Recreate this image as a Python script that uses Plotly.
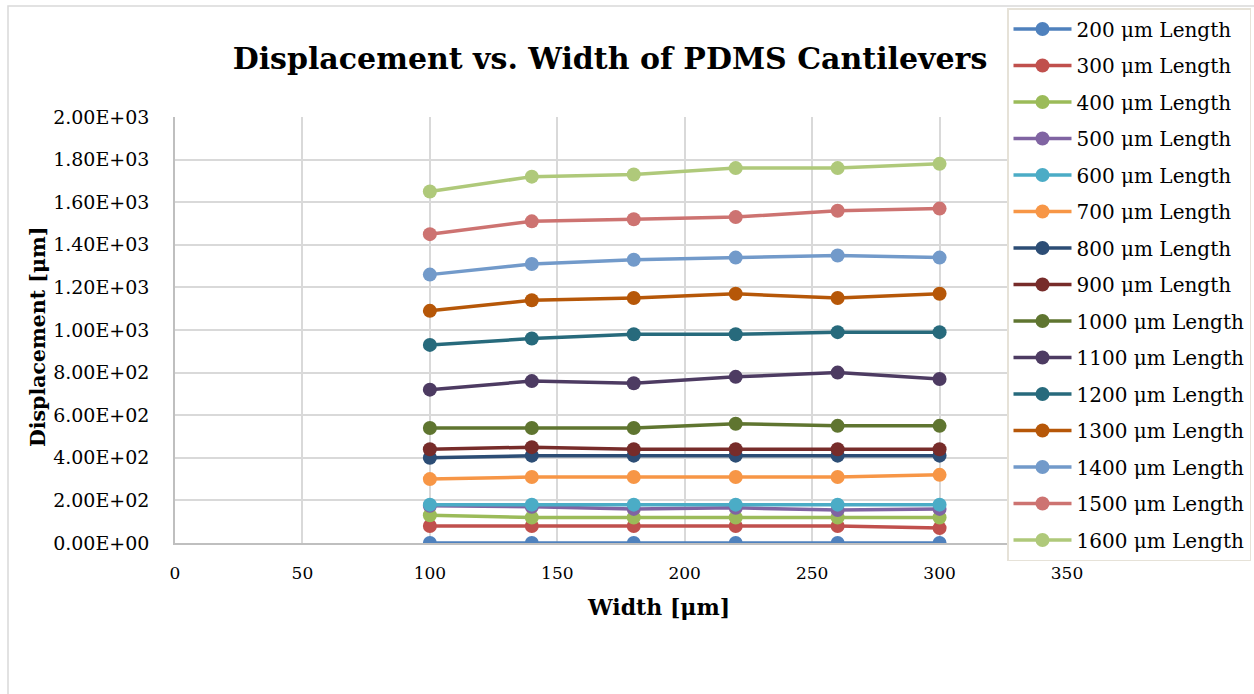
import plotly.graph_objects as go

widths = [100, 140, 180, 220, 260, 300]
lengths = [200, 300, 400, 500, 600, 700, 800, 900, 1000, 1100, 1200, 1300, 1400, 1500, 1600]

d200 = [0, 0, 0, 0, 0, 0]
d300 = [80, 80, 80, 80, 80, 70]
d400 = [130, 120, 120, 120, 120, 120]
d500 = [175, 170, 160, 165, 155, 160]
d600 = [180, 180, 180, 180, 180, 180]
d700 = [300, 310, 310, 310, 310, 320]
d800 = [400, 410, 410, 410, 410, 410]
d900 = [440, 450, 440, 440, 440, 440]
d1000 = [540, 540, 540, 560, 550, 550]
d1100 = [720, 760, 750, 780, 800, 770]
d1200 = [930, 960, 980, 980, 990, 990]
d1300 = [1090, 1140, 1150, 1170, 1150, 1170]
d1400 = [1260, 1310, 1330, 1340, 1350, 1340]
d1500 = [1450, 1510, 1520, 1530, 1560, 1570]
d1600 = [1650, 1720, 1730, 1760, 1760, 1780]

series = [d200, d300, d400, d500, d600, d700, d800, d900, d1000, d1100, d1200, d1300, d1400, d1500, d1600]
colors = ["#4F81BD", "#C0504D", "#9BBB59", "#8064A2", "#4BACC6", "#F79646", "#2C4D75",
          "#772C2A", "#5F7530", "#4D3B62", "#276A7C", "#B65708", "#729ACA", "#CD7371", "#AFC97A"]

yticks = [0, 200, 400, 600, 800, 1000, 1200, 1400, 1600, 1800, 2000]
yticktext = ["0.00E+00", "2.00E+02", "4.00E+02", "6.00E+02", "8.00E+02", "1.00E+03",
             "1.20E+03", "1.40E+03", "1.60E+03", "1.80E+03", "2.00E+03"]
xticks = [0, 50, 100, 150, 200, 250, 300, 350]

FONT = "DejaVu Serif"

fig = go.Figure()
for L, vals, c in zip(lengths, series, colors):
    fig.add_trace(go.Scatter(
        x=widths, y=vals, mode="lines+markers", name=f"{L} μm Length",
        legendgroup=str(L),
        line=dict(color=c, width=3.5), marker=dict(color=c, size=14),
    ))

W, H = 1254, 694
l, r, t, b = 175, 187, 117, 151

fig.update_layout(
    width=W, height=H,
    margin=dict(l=l, r=r, t=t, b=b, autoexpand=False),
    paper_bgcolor="white", plot_bgcolor="white",
    font=dict(family=FONT, color="black", size=18),
    title=dict(text="<b>Displacement vs. Width of PDMS Cantilevers</b>",
               x=610 / W, xref="container", xanchor="center",
               y=1 - 58 / H, yref="container", yanchor="middle", font=dict(size=30, family=FONT)),
    xaxis=dict(range=[0, 350], tickvals=xticks, showgrid=True, gridcolor="#d9d9d9", gridwidth=1.5,
               showline=True, linecolor="#bfbfbf", linewidth=1.5, zeroline=False,
               ticks="", ticklabelstandoff=14, tickfont=dict(size=17)),
    yaxis=dict(range=[0, 2000], tickvals=yticks, ticktext=yticktext, showgrid=True,
               gridcolor="#d9d9d9", gridwidth=1.5,
               showline=True, linecolor="#bfbfbf", linewidth=1.5, zeroline=False,
               ticks="", ticklabelstandoff=20, tickfont=dict(size=19)),
    legend=dict(x=1007 / W, y=1 - 8 / H, xanchor="left", yanchor="top",
                xref="container", yref="container", maxheight=680,
                bgcolor="white", bordercolor="#e6e2d8", borderwidth=1.5,
                font=dict(size=20, family=FONT), tracegroupgap=7.5,
                itemwidth=58),
    annotations=[
        dict(text="<b>Width [μm]</b>", xref="paper", yref="paper",
             x=(658 - l) / (W - l - r), y=(H - b - 607) / (H - t - b),
             xanchor="center", yanchor="middle", showarrow=False, font=dict(size=22)),
        dict(text="<b>Displacement [μm]</b>", xref="paper", yref="paper", textangle=-90,
             x=(38 - l) / (W - l - r), y=(H - b - 337) / (H - t - b),
             xanchor="center", yanchor="middle", showarrow=False, font=dict(size=20.5)),
    ],
    shapes=[dict(type="rect", xref="paper", yref="paper",
                 x0=(8 - l) / (W - l - r), x1=(1300 - l) / (W - l - r),
                 y0=(H - b - 720) / (H - t - b), y1=(H - b - 6) / (H - t - b),
                 line=dict(color="#d9d9d9", width=1.5), fillcolor="rgba(0,0,0,0)", layer="below")],
)

fig.write_html("out.html")
